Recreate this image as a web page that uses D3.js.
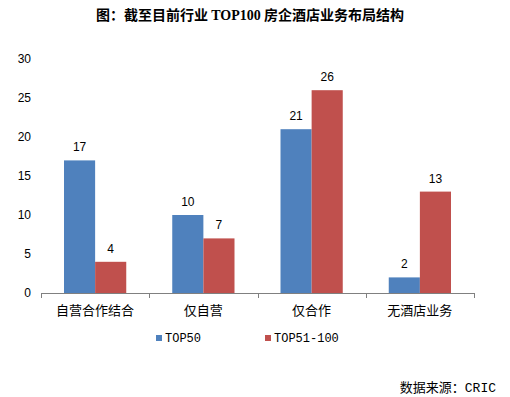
<!DOCTYPE html>
<html>
<head>
<meta charset="utf-8">
<script src="https://cdn.jsdelivr.net/npm/d3@7"></script>
<style>
  body { margin: 0; background: #fff; }
  svg { display: block; }
</style>
</head>
<body>
<div id="chart"></div>
<script>
// data
const categories = ["自营合作结合", "仅自营", "仅合作", "无酒店业务"];
const seriesNames = ["TOP50", "TOP51-100"];
const top50 = [17, 10, 21, 2];
const top51to100 = [4, 7, 26, 13];
const yTicks = [0, 5, 10, 15, 20, 25, 30];
const colors = ["#4F81BD", "#C0504D"];

const width = 510, height = 397;
const margin = {top: 59, right: 36, bottom: 104, left: 41};
const plotW = width - margin.left - margin.right,
      plotH = height - margin.top - margin.bottom;

const svg = d3.select("#chart")
  .append("svg")
    .attr("width", width)
    .attr("height", height);

// title (latin part in serif like the original)
const title = svg.append("text")
  .attr("x", 250)
  .attr("y", 20)
  .attr("text-anchor", "middle")
  .attr("font-family", "'Noto Sans CJK SC', sans-serif")
  .attr("font-weight", "bold")
  .attr("font-size", "14px")
  .attr("fill", "#000");
title.append("tspan").text("图：截至目前行业 ");
title.append("tspan").attr("font-family", "'Liberation Serif', serif").text("TOP100");
title.append("tspan").text(" 房企酒店业务布局结构");

const g = svg.append("g")
  .attr("transform", `translate(${margin.left},${margin.top})`);

const x0 = d3.scaleBand()
  .domain(categories)
  .range([0, plotW])
  .paddingInner(0)
  .paddingOuter(0);

const x1 = d3.scaleBand()
  .domain(seriesNames)
  .range([23, x0.bandwidth() - 23]);

const y = d3.scaleLinear()
  .domain([0, 30])
  .range([plotH, 0]);

// y axis labels (no line)
g.selectAll(".ylab")
  .data(yTicks)
  .enter().append("text")
    .attr("x", -10)
    .attr("y", d => y(d))
    .attr("dy", "0.35em")
    .attr("text-anchor", "end")
    .attr("font-family", "'Liberation Sans', Arial, sans-serif")
    .attr("font-size", "12px")
    .attr("fill", "#000")
    .text(d => d);

// bars
const rows = categories.map((c, i) => ({cat: c, vals: [top50[i], top51to100[i]]}));

const groups = g.selectAll(".grp")
  .data(rows)
  .enter().append("g")
    .attr("transform", d => `translate(${x0(d.cat)},0)`);

groups.selectAll("rect")
  .data(d => d.vals.map((v, j) => ({name: seriesNames[j], v: v, j: j})))
  .enter().append("rect")
    .attr("x", d => x1(d.name))
    .attr("y", d => y(d.v))
    .attr("width", x1.bandwidth())
    .attr("height", d => plotH - y(d.v))
    .attr("fill", d => colors[d.j]);

groups.selectAll(".lbl")
  .data(d => d.vals.map((v, j) => ({name: seriesNames[j], v: v})))
  .enter().append("text")
    .attr("x", d => x1(d.name) + x1.bandwidth() / 2)
    .attr("y", d => y(d.v) - 9)
    .attr("text-anchor", "middle")
    .attr("font-family", "'Liberation Sans', Arial, sans-serif")
    .attr("font-size", "12px")
    .attr("fill", "#000")
    .text(d => d.v);

// x axis
const xAxis = g.append("g")
  .attr("transform", `translate(0,${plotH})`);
xAxis.append("line")
  .attr("x1", 0).attr("x2", plotW)
  .attr("y1", 0.5).attr("y2", 0.5)
  .attr("stroke", "#808080");
const bounds = categories.map(c => x0(c)).concat([plotW]);
xAxis.selectAll(".tick")
  .data(bounds)
  .enter().append("line")
    .attr("x1", d => Math.round(d) + 0.5).attr("x2", d => Math.round(d) + 0.5)
    .attr("y1", 0).attr("y2", 5)
    .attr("stroke", "#808080");
xAxis.selectAll(".cat")
  .data(categories)
  .enter().append("text")
    .attr("x", d => x0(d) + x0.bandwidth() / 2)
    .attr("y", 22)
    .attr("text-anchor", "middle")
    .attr("font-family", "'Noto Sans CJK SC', sans-serif")
    .attr("font-size", "13px")
    .attr("fill", "#000")
    .text(d => d);

// legend
const legendX = [156, 265];
const legend = svg.selectAll(".leg")
  .data(seriesNames)
  .enter().append("g")
    .attr("transform", (d, i) => `translate(${legendX[i]},335)`);
legend.append("rect")
  .attr("width", 6).attr("height", 6)
  .attr("fill", (d, i) => colors[i]);
legend.append("text")
  .attr("x", 9)
  .attr("y", 3)
  .attr("dy", "0.35em")
  .attr("font-family", "'Liberation Mono', monospace")
  .attr("font-size", "12px")
  .attr("fill", "#000")
  .text(d => d);

// source
const src = svg.append("text")
  .attr("x", 496)
  .attr("y", 392)
  .attr("text-anchor", "end")
  .attr("font-family", "'Noto Sans CJK SC', sans-serif")
  .attr("font-size", "13px")
  .attr("fill", "#000");
src.append("tspan").text("数据来源：");
src.append("tspan").attr("font-family", "'Liberation Mono', monospace").text("CRIC");
</script>
</body>
</html>
